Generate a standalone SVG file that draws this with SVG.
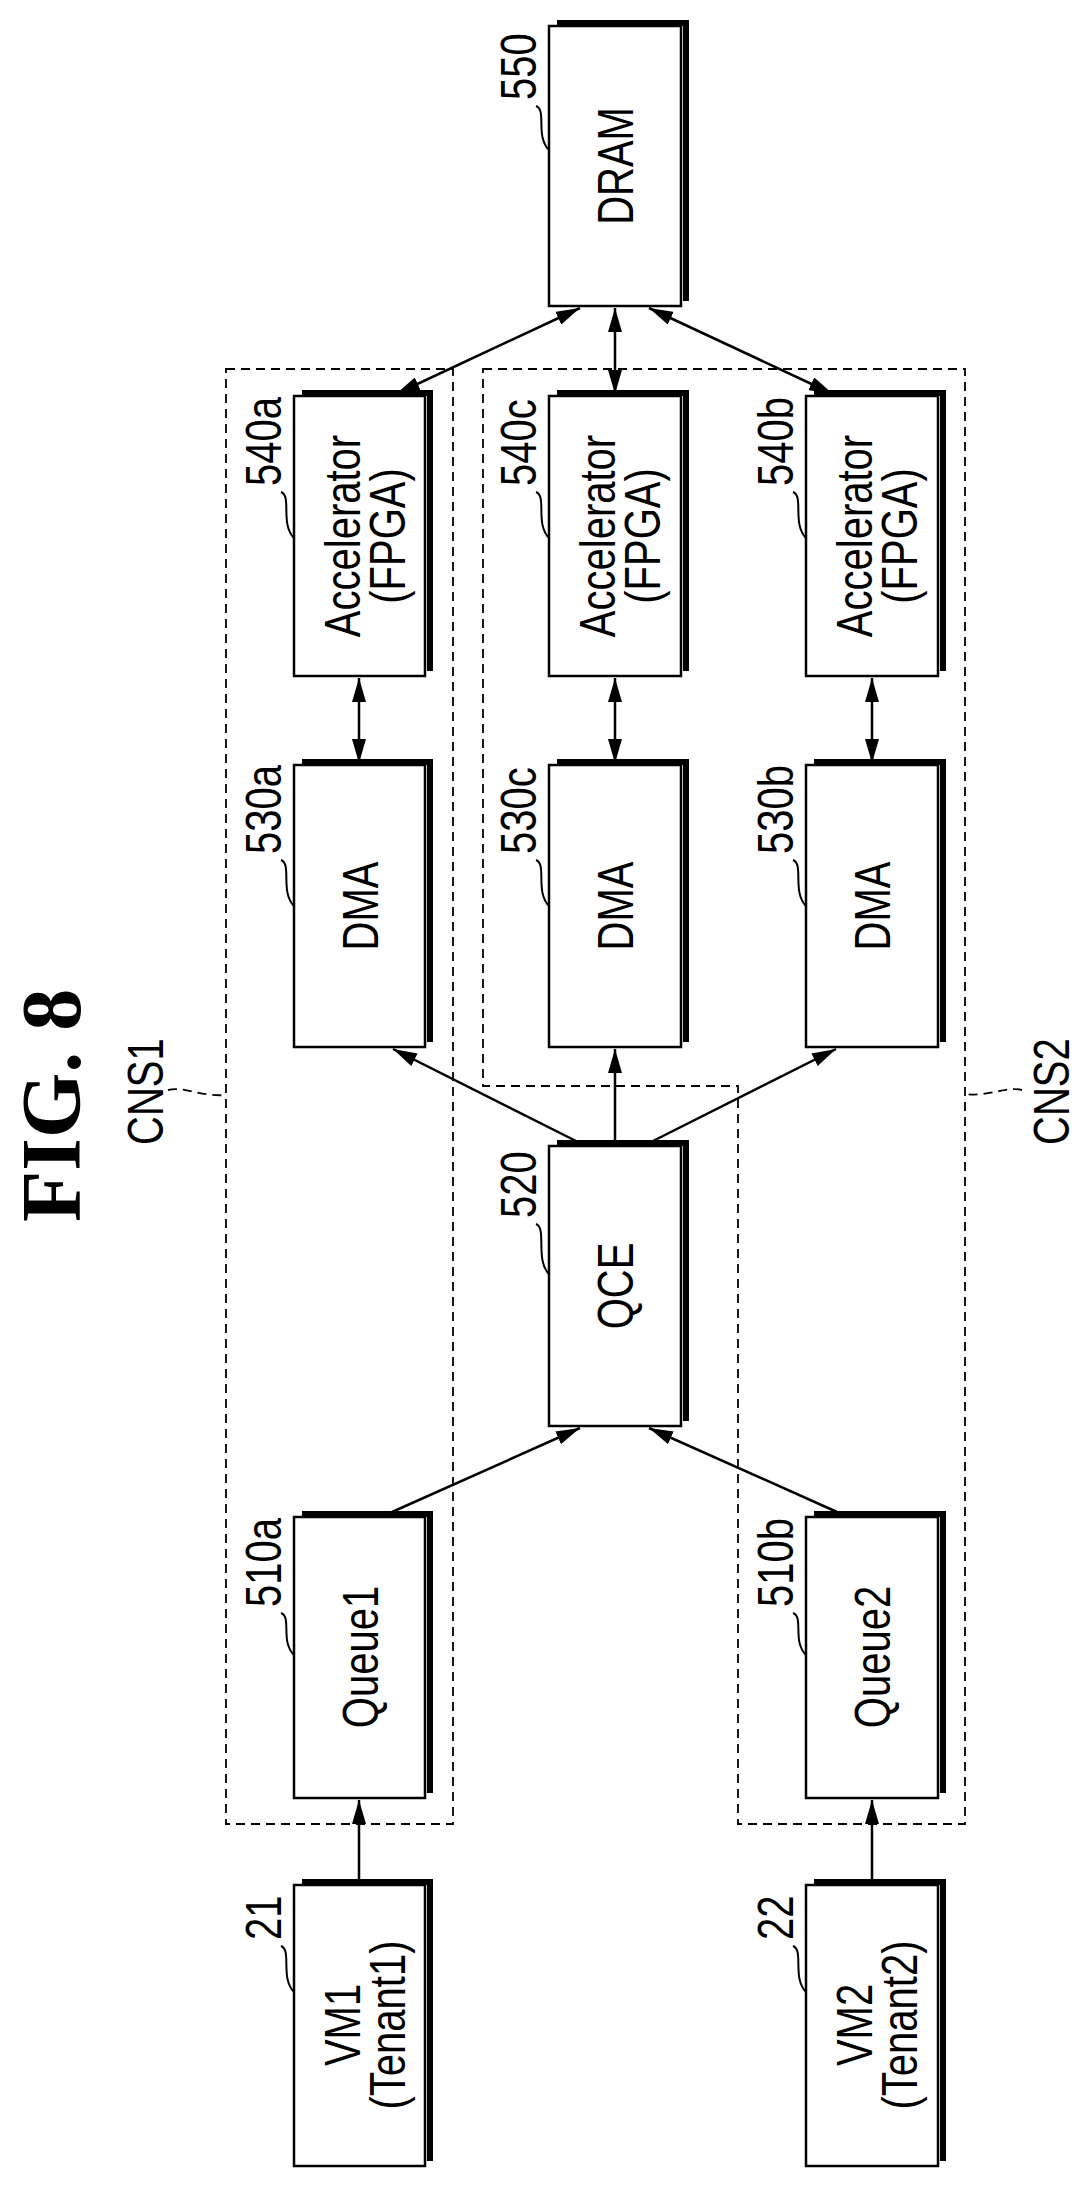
<svg xmlns="http://www.w3.org/2000/svg" width="1077" height="2199" viewBox="0 0 1077 2199">
<style>
.box{fill:#fff;stroke:#000;stroke-width:2.5}
.sh{fill:none;stroke:#000;stroke-width:6}
.t{font-family:"Liberation Sans",Arial,sans-serif;font-size:50px;fill:#000}
.lbl{font-family:"Liberation Sans",Arial,sans-serif;font-size:50px;fill:#000}
.ld{fill:none;stroke:#000;stroke-width:2}
.dash{fill:none;stroke:#000;stroke-width:1.8;stroke-dasharray:9 6}
.c{fill:none;stroke:#000;stroke-width:2.5}
</style>
<defs>
<marker id="ah" viewBox="0 0 24 14" refX="24" refY="7" markerWidth="24" markerHeight="14" markerUnits="userSpaceOnUse" orient="auto-start-reverse"><path d="M0,0 L24,7 L0,14 z" fill="#000"/></marker>
</defs>
<rect width="1077" height="2199" fill="#fff"/>
<text transform="translate(80,1222) rotate(-90)" font-family="Liberation Serif,serif" font-weight="bold" font-size="84">FIG. 8</text>
<g id="CNS1">
<path class="dash" d="M226,369 H453 V1824 H226 Z"/>
<text class="lbl" transform="translate(163,1145) rotate(-90) scale(0.8,1)" font-size="43">CNS1</text>
<path class="dash" d="M168,1090 C185,1086 200,1097 226,1095"/>
</g>
<g id="CNS2">
<path class="dash" d="M483,369 H965 V1824 H738 V1086 H483 Z"/>
<text class="lbl" transform="translate(1069,1145) rotate(-90) scale(0.8,1)" font-size="43">CNS2</text>
<path class="dash" d="M1022,1090 C1005,1086 990,1097 965,1094"/>
</g>
<g id="n550"><path class="sh" d="M557,23 H686 V301"/><rect class="box" x="549" y="26" width="132" height="280"/><text class="t" text-anchor="middle" transform="translate(633,166) rotate(-90) scale(0.8,1)">DRAM</text><text class="lbl" transform="translate(536,100) rotate(-90) scale(0.8,1)">550</text><path class="ld" d="M536,106 C547,110 535,136 549,150"/></g>
<g id="n540a"><path class="sh" d="M302,393 H430 V671"/><rect class="box" x="294" y="396" width="131" height="280"/><text class="t" text-anchor="middle" transform="translate(360,536) rotate(-90) scale(0.8,1)">Accelerator</text><text class="t" text-anchor="middle" transform="translate(405,536) rotate(-90) scale(0.8,1)">(FPGA)</text><text class="lbl" transform="translate(281,486) rotate(-90) scale(0.8,1)">540a</text><path class="ld" d="M281,492 C292,496 280,524 294,538"/></g>
<g id="n540c"><path class="sh" d="M557,393 H686 V671"/><rect class="box" x="549" y="396" width="132" height="280"/><text class="t" text-anchor="middle" transform="translate(615,536) rotate(-90) scale(0.8,1)">Accelerator</text><text class="t" text-anchor="middle" transform="translate(660,536) rotate(-90) scale(0.8,1)">(FPGA)</text><text class="lbl" transform="translate(536,486) rotate(-90) scale(0.8,1)">540c</text><path class="ld" d="M536,492 C547,496 535,524 549,538"/></g>
<g id="n540b"><path class="sh" d="M814,393 H943 V671"/><rect class="box" x="806" y="396" width="132" height="280"/><text class="t" text-anchor="middle" transform="translate(872,536) rotate(-90) scale(0.8,1)">Accelerator</text><text class="t" text-anchor="middle" transform="translate(917,536) rotate(-90) scale(0.8,1)">(FPGA)</text><text class="lbl" transform="translate(793,486) rotate(-90) scale(0.8,1)">540b</text><path class="ld" d="M793,492 C804,496 792,524 806,538"/></g>
<g id="n530a"><path class="sh" d="M302,762 H430 V1042"/><rect class="box" x="294" y="765" width="131" height="282"/><text class="t" text-anchor="middle" transform="translate(378,906) rotate(-90) scale(0.8,1)">DMA</text><text class="lbl" transform="translate(281,854) rotate(-90) scale(0.8,1)">530a</text><path class="ld" d="M281,860 C292,864 280,892 294,906"/></g>
<g id="n530c"><path class="sh" d="M557,762 H686 V1042"/><rect class="box" x="549" y="765" width="132" height="282"/><text class="t" text-anchor="middle" transform="translate(633,906) rotate(-90) scale(0.8,1)">DMA</text><text class="lbl" transform="translate(536,854) rotate(-90) scale(0.8,1)">530c</text><path class="ld" d="M536,860 C547,864 535,892 549,906"/></g>
<g id="n530b"><path class="sh" d="M814,762 H943 V1042"/><rect class="box" x="806" y="765" width="132" height="282"/><text class="t" text-anchor="middle" transform="translate(890,906) rotate(-90) scale(0.8,1)">DMA</text><text class="lbl" transform="translate(793,854) rotate(-90) scale(0.8,1)">530b</text><path class="ld" d="M793,860 C804,864 792,892 806,906"/></g>
<g id="n520"><path class="sh" d="M557,1143 H686 V1421"/><rect class="box" x="549" y="1146" width="132" height="280"/><text class="t" text-anchor="middle" transform="translate(633,1286) rotate(-90) scale(0.8,1)">QCE</text><text class="lbl" transform="translate(536,1218) rotate(-90) scale(0.8,1)">520</text><path class="ld" d="M536,1224 C547,1228 535,1260 549,1274"/></g>
<g id="n510a"><path class="sh" d="M302,1514 H430 V1793"/><rect class="box" x="294" y="1517" width="131" height="281"/><text class="t" text-anchor="middle" transform="translate(378,1657) rotate(-90) scale(0.8,1)">Queue1</text><text class="lbl" transform="translate(281,1607) rotate(-90) scale(0.8,1)">510a</text><path class="ld" d="M281,1613 C292,1617 280,1641 294,1655"/></g>
<g id="n510b"><path class="sh" d="M814,1514 H943 V1793"/><rect class="box" x="806" y="1517" width="132" height="281"/><text class="t" text-anchor="middle" transform="translate(890,1657) rotate(-90) scale(0.8,1)">Queue2</text><text class="lbl" transform="translate(793,1607) rotate(-90) scale(0.8,1)">510b</text><path class="ld" d="M793,1613 C804,1617 792,1641 806,1655"/></g>
<g id="n21"><path class="sh" d="M302,1882 H430 V2161"/><rect class="box" x="294" y="1885" width="131" height="281"/><text class="t" text-anchor="middle" transform="translate(360,2025) rotate(-90) scale(0.8,1)">VM1</text><text class="t" text-anchor="middle" transform="translate(405,2025) rotate(-90) scale(0.8,1)">(Tenant1)</text><text class="lbl" transform="translate(281,1940) rotate(-90) scale(0.8,1)">21</text><path class="ld" d="M281,1946 C292,1950 280,1978 294,1992"/></g>
<g id="n22"><path class="sh" d="M814,1882 H943 V2161"/><rect class="box" x="806" y="1885" width="132" height="281"/><text class="t" text-anchor="middle" transform="translate(872,2025) rotate(-90) scale(0.8,1)">VM2</text><text class="t" text-anchor="middle" transform="translate(917,2025) rotate(-90) scale(0.8,1)">(Tenant2)</text><text class="lbl" transform="translate(793,1940) rotate(-90) scale(0.8,1)">22</text><path class="ld" d="M793,1946 C804,1950 792,1978 806,1992"/></g>
<g id="connectors">
<line class="c" x1="580" y1="308" x2="396" y2="394" marker-start="url(#ah)" marker-end="url(#ah)"/>
<line class="c" x1="615" y1="308" x2="615" y2="394" marker-start="url(#ah)" marker-end="url(#ah)"/>
<line class="c" x1="649" y1="308" x2="833" y2="394" marker-start="url(#ah)" marker-end="url(#ah)"/>
<line class="c" x1="359" y1="678" x2="359" y2="763" marker-start="url(#ah)" marker-end="url(#ah)"/>
<line class="c" x1="615" y1="678" x2="615" y2="763" marker-start="url(#ah)" marker-end="url(#ah)"/>
<line class="c" x1="872" y1="678" x2="872" y2="763" marker-start="url(#ah)" marker-end="url(#ah)"/>
<line class="c" x1="576" y1="1141" x2="393" y2="1049" marker-end="url(#ah)"/>
<line class="c" x1="615" y1="1141" x2="615" y2="1049" marker-end="url(#ah)"/>
<line class="c" x1="653" y1="1141" x2="836" y2="1049" marker-end="url(#ah)"/>
<line class="c" x1="392" y1="1512" x2="580" y2="1428" marker-end="url(#ah)"/>
<line class="c" x1="837" y1="1512" x2="649" y2="1428" marker-end="url(#ah)"/>
<line class="c" x1="359" y1="1882" x2="359" y2="1800" marker-end="url(#ah)"/>
<line class="c" x1="872" y1="1882" x2="872" y2="1800" marker-end="url(#ah)"/>
</g>
</svg>
